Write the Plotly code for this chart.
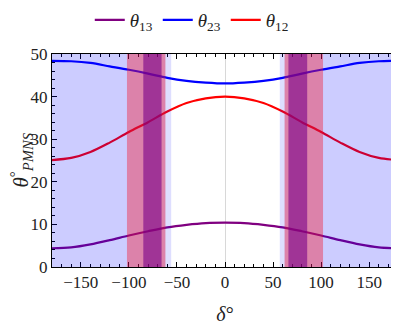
import plotly.graph_objects as go

# mixing angles vs CP phase
delta = [-180, -160, -140, -120, -100, -80, -60, -40, -20, 0,
         20, 40, 60, 80, 100, 120, 140, 160, 180]
theta13 = [4.4, 4.6, 5.3, 6.3, 7.4, 8.4, 9.3, 9.9, 10.3, 10.4,
           10.3, 9.9, 9.3, 8.4, 7.4, 6.3, 5.3, 4.6, 4.4]
theta23 = [48.4, 48.3, 47.9, 47.1, 46.3, 45.4, 44.4, 43.7, 43.3, 43.1,
           43.3, 43.7, 44.4, 45.4, 46.3, 47.1, 47.9, 48.3, 48.4]
theta12 = [25.1, 25.6, 27.0, 29.2, 31.7, 34.0, 36.5, 38.5, 39.6, 40.0,
           39.6, 38.5, 36.5, 34.0, 31.7, 29.2, 27.0, 25.6, 25.1]

# allowed delta regions (blue), 3 sigma (pink) and 1 sigma (dark) bands
blue_bands = [(-180, -62), (62, 180)]
light_blue_bands = [(-62, -56), (57, 62)]
pink_bands = [(-102, -62), (62, 102)]
dark_bands = [(-85, -66), (66, 85.5)]

series = [
    ("<i>θ</i><sub>13</sub>", theta13, "#800080"),
    ("<i>θ</i><sub>23</sub>", theta23, "#0000ff"),
    ("<i>θ</i><sub>12</sub>", theta12, "#ff0000"),
]

fig = go.Figure()
for name, vals, col in series:
    fig.add_trace(go.Scatter(x=delta, y=vals, mode="lines", name=name,
                             line=dict(color=col, width=2.2, shape="spline",
                                       smoothing=0.9)))

def band(x0, x1, color):
    fig.add_shape(type="rect", xref="x", yref="y", x0=x0, x1=x1, y0=0, y1=50,
                  fillcolor=color, line_width=0, layer="above")

for a, b in blue_bands:
    band(a, b, "rgba(0,0,255,0.2)")
for a, b in light_blue_bands:
    band(a, b, "rgba(0,0,255,0.13)")
for a, b in pink_bands:
    band(a, b, "rgba(244,19,42,0.4)")
for a, b in dark_bands:
    band(a, b, "rgba(120,0,137,0.6)")

serif = "Liberation Serif"
axis_common = dict(showline=True, linecolor="black", linewidth=1, mirror="allticks",
                   ticks="inside", ticklen=5, tickcolor="black", showgrid=False,
                   automargin=False,
                   tickfont=dict(family=serif, size=17, color="#222"))

fig.update_xaxes(range=[-180, 180], tickvals=[-150, -100, -50, 0, 50, 100, 150],
                 zeroline=True, zerolinecolor="#d8d8d8", zerolinewidth=1,
                 minor=dict(ticks="inside", dtick=10, ticklen=3, tickcolor="black"),
                 title=dict(text="<i>δ</i>°", font=dict(family=serif, size=20, color="#222")),
                 **axis_common)
fig.update_yaxes(range=[0, 50], dtick=10, zeroline=False,
                 minor=dict(ticks="inside", dtick=2, ticklen=3, tickcolor="black"),
                 **axis_common)

# y title as an annotation so it can sit further left than the default
fig.add_annotation(text="<i>θ</i><sup>°</sup><sub><i>PMNS</i></sub>",
                   xref="paper", yref="paper", x=0, y=0.5, xshift=-31,
                   xanchor="center", yanchor="middle", textangle=-90,
                   showarrow=False, font=dict(family=serif, size=21, color="#222"))

# the page body adds an 8px offset, so the figure is sized 8px smaller
fig.update_layout(
    width=391, height=319,
    margin=dict(l=44, r=1, t=46, b=60),
    plot_bgcolor="white", paper_bgcolor="white",
    showlegend=True,
    legend=dict(orientation="h", xref="container", x=0.47, xanchor="center",
                yref="container", y=0.962, yanchor="middle",
                font=dict(family=serif, size=19, color="#222"),
                itemwidth=30, tracegroupgap=0, bgcolor="rgba(0,0,0,0)"),
)

fig.write_html("out.html")
